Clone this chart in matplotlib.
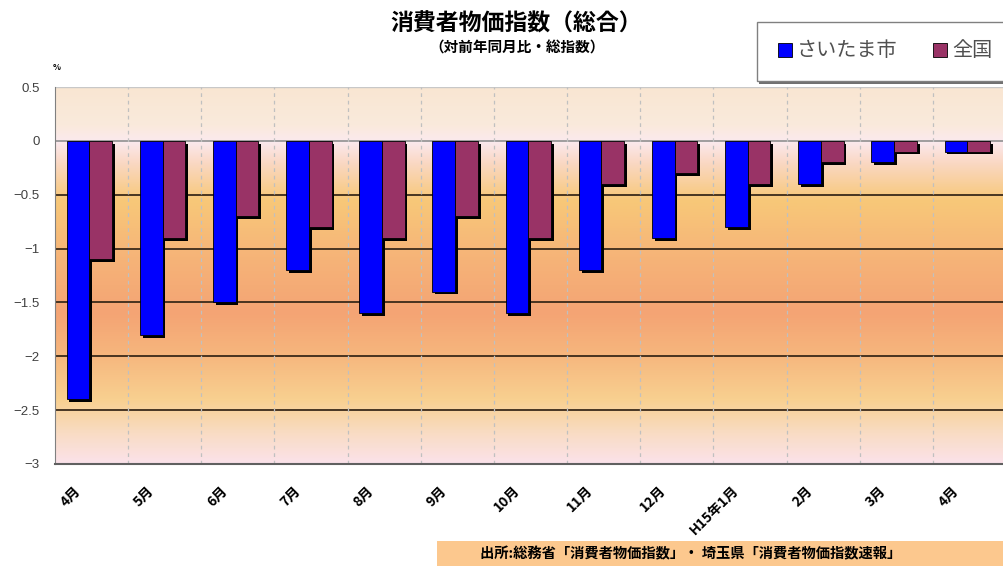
import numpy as np
import matplotlib
matplotlib.use('Agg')
import matplotlib.pyplot as plt
import matplotlib.patheffects as pe
import matplotlib.transforms as mtransforms
from matplotlib.colors import LinearSegmentedColormap
from matplotlib.patches import Rectangle

plt.rcParams['font.family'] = ['Noto Sans CJK JP', 'DejaVu Sans']

# 消費者物価指数（対前年同月比）
meses = ['4月', '5月', '6月', '7月', '8月', '9月', '10月', '11月', '12月',
         'H15年1月', '2月', '3月', '4月']
saitama = [-2.4, -1.8, -1.5, -1.2, -1.6, -1.4, -1.6, -1.2, -0.9, -0.8, -0.4, -0.2, -0.1]
zenkoku = [-1.1, -0.9, -0.7, -0.8, -0.9, -0.7, -0.9, -0.4, -0.3, -0.4, -0.2, -0.1, -0.1]
series_names = ['さいたま市', '全国']
colores = ['#0000ff', '#993366']
yticks = [0.5, 0, -0.5, -1, -1.5, -2, -2.5, -3]

W, H = 1004, 566
fig = plt.figure(figsize=(W / 100, H / 100), dpi=100)
ax = fig.add_axes([55 / W, 1 - 464 / H, (1006 - 55) / W, (464 - 87) / H])

n = len(meses)
ax.set_xlim(0, n)
ax.set_ylim(-3, 0.5)

# fondo degradado del área de trazado
fondo = LinearSegmentedColormap.from_list('fondo', [
    (0.0, '#fbe2ea'), (0.08, '#f9dcc4'), (0.17, '#f8d090'), (0.3, '#f6b47c'),
    (0.4, '#f4a474'), (0.55, '#f6b478'), (0.7, '#f8c878'), (0.8, '#fad8c4'),
    (0.857, '#fbe9ee'), (0.9, '#faeadc'), (1.0, '#f9e6d2')])
grad = np.linspace(0, 1, 256).reshape(-1, 1)
ax.imshow(grad, cmap=fondo, aspect='auto', extent=(0, n, -3, 0.5),
          origin='lower', zorder=0)

# líneas de división
for v in [-0.5, -1, -1.5, -2, -2.5]:
    ax.axhline(v, color='#3a2a1a', lw=1.3, zorder=1)
ax.axhline(0, color='#909090', lw=1.2, zorder=1)
ax.axhline(0.5, color='#c8c8c8', lw=1.0, zorder=1)
for k in range(1, n):
    ax.axvline(k, color='#c0c0c0', lw=0.9, ls=(0, (3, 3)), zorder=1)

x = np.arange(n)
ancho = 0.31
sombra = [pe.SimplePatchShadow(offset=(2, -2), shadow_rgbFace='black', alpha=1.0), pe.Normal()]
b1 = ax.bar(x + 0.16, saitama, ancho, align='edge', color=colores[0],
            edgecolor='black', linewidth=0.6, zorder=3)
b2 = ax.bar(x + 0.16 + ancho, zenkoku, ancho, align='edge', color=colores[1],
            edgecolor='black', linewidth=0.6, zorder=3)
for b in list(b1) + list(b2):
    b.set_path_effects(sombra)

ax.set_yticks(yticks)
ax.set_yticklabels([f'{v:g}'.replace('-', '\u2212') for v in yticks], fontsize=9.5,
                   color='#404040', family=['Liberation Sans'])
ax.tick_params(axis='y', length=0, pad=11)
ax.set_xticks(x + 0.5)
ax.set_xticklabels(meses, rotation=45, ha='right', va='top', fontsize=10,
                   fontweight='bold', rotation_mode='anchor')
ax.tick_params(axis='x', length=0, pad=14)
desplazar = mtransforms.ScaledTranslation(-18 / 100, 0 / 100, fig.dpi_scale_trans)
for lab in ax.get_xticklabels():
    lab.set_transform(lab.get_transform() + desplazar)
for s in ['top', 'right']:
    ax.spines[s].set_visible(False)
ax.spines['left'].set_color('#808080')
ax.spines['bottom'].set_color('#606060')
ax.spines['bottom'].set_linewidth(1.5)

fig.text(57 / W, 1 - 68 / H, '%', fontsize=6, fontweight='bold', ha='center', va='center')

# títulos
fig.text(516 / W, 1 - 24 / H, '消費者物価指数（総合）', fontsize=16.5, fontweight='bold',
         ha='center', va='center')
fig.text(517 / W, 1 - 48 / H, '（対前年同月比・総指数）', fontsize=10.5, fontweight='bold',
         ha='center', va='center')

# leyenda (el recuadro sigue más allá del borde derecho)
fig.patches.append(Rectangle((759 / W, 1 - 84 / H), 260 / W, 61 / H,
                             transform=fig.transFigure, facecolor='#707070',
                             edgecolor='none', zorder=5))
fig.patches.append(Rectangle((757 / W, 1 - 81 / H), 260 / W, 59 / H,
                             transform=fig.transFigure, facecolor='white',
                             edgecolor='#808080', lw=1.0, zorder=6))
for xc, nombre, c in [(778, series_names[0], colores[0]), (933, series_names[1], colores[1])]:
    fig.patches.append(Rectangle((xc / W, 1 - 57 / H), 14 / W, 14 / H,
                                 transform=fig.transFigure, facecolor=c,
                                 edgecolor='black', lw=0.6, zorder=7))
    fig.text((xc + 19) / W, 1 - 50 / H, nombre, fontsize=14.5, color='#505050',
             ha='left', va='center', zorder=8)

# fuente de los datos
fig.patches.append(Rectangle((437 / W, 0), 1 - 437 / W, 25 / H, transform=fig.transFigure,
                             facecolor='#fcc88e', edgecolor='none'))
fig.text(691 / W, 1 - 554 / H, '出所:総務省「消費者物価指数」・ 埼玉県「消費者物価指数速報」',
         fontsize=10.3, fontweight='bold', ha='center', va='center')

fig.savefig('out.png', dpi=100)
